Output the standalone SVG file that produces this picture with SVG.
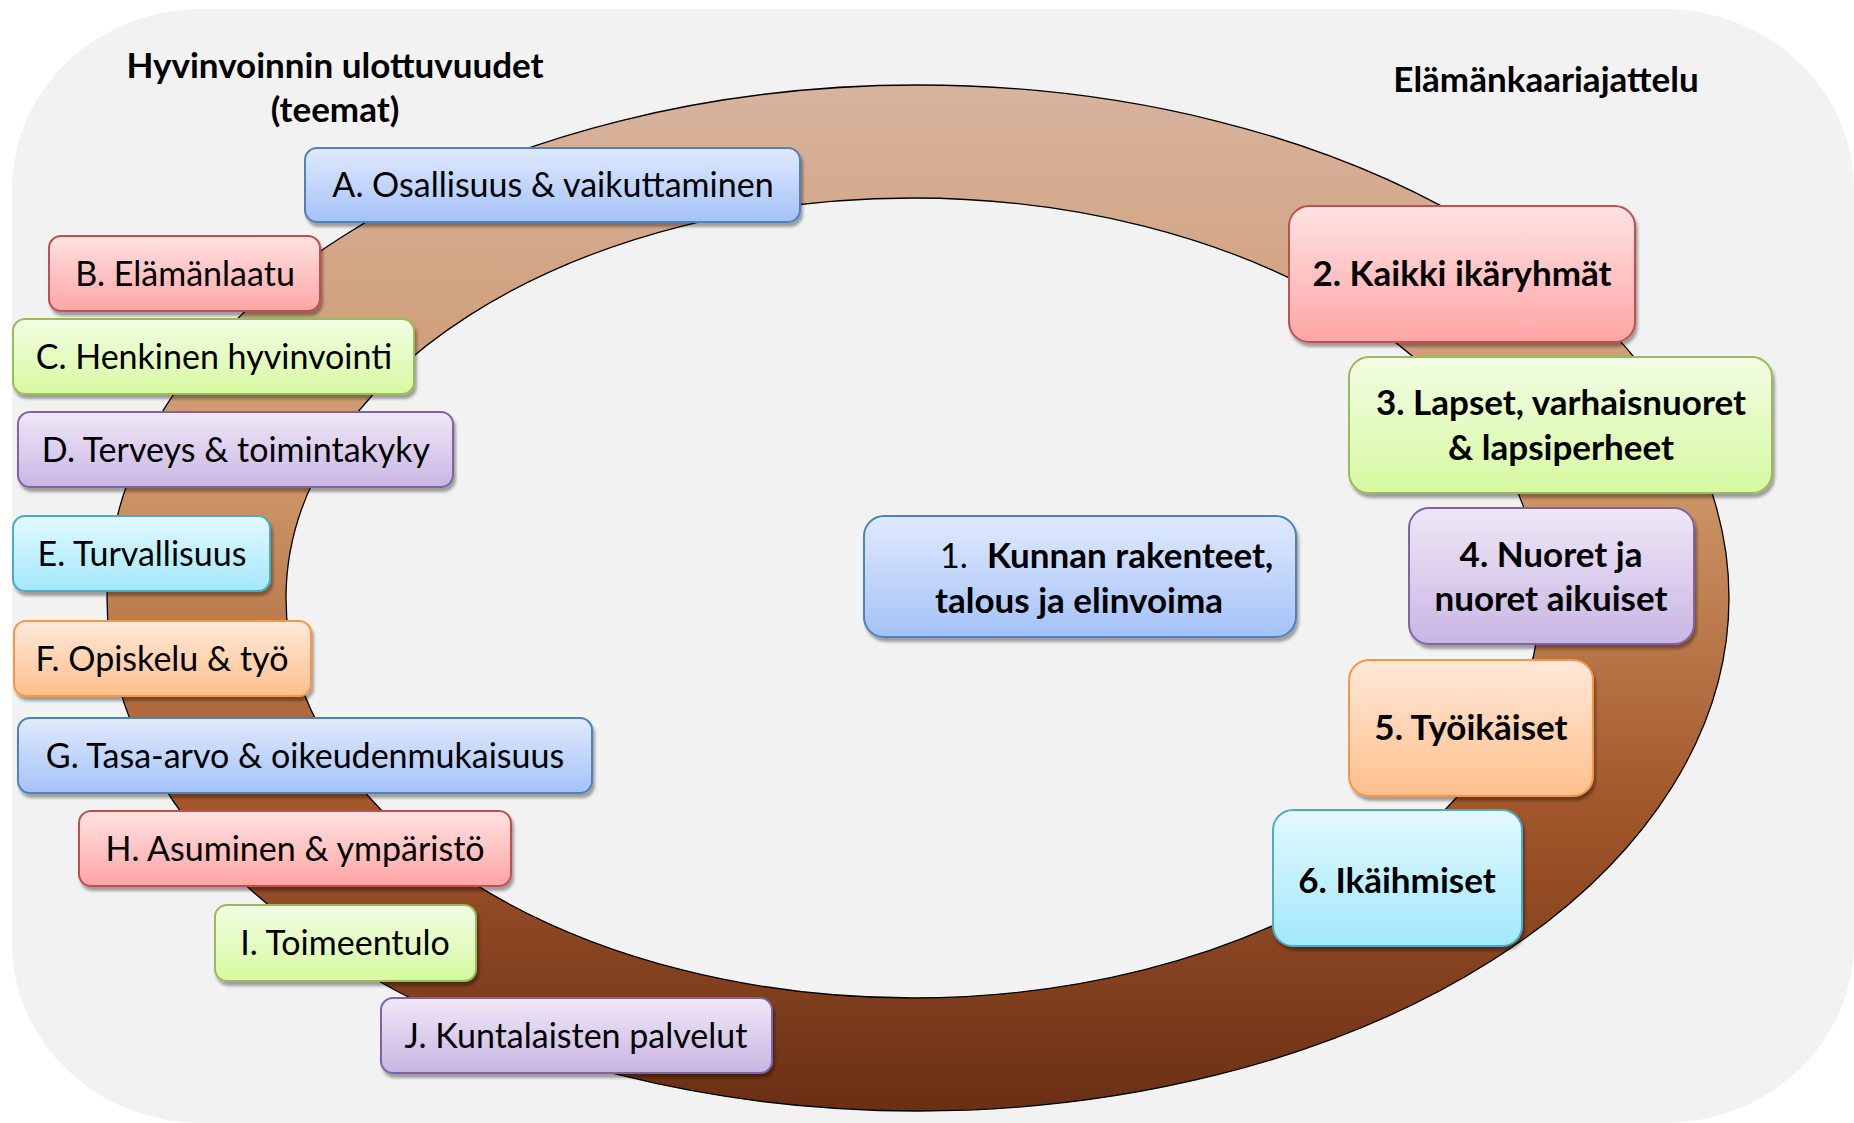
<svg xmlns="http://www.w3.org/2000/svg" width="1854" height="1123" viewBox="0 0 1854 1123">
<defs>
<linearGradient id="ringG" x1="0" y1="0" x2="0" y2="1">
<stop offset="0" stop-color="#d8b39f"/>
<stop offset="0.4" stop-color="#cc9465"/>
<stop offset="0.7" stop-color="#a3572b"/>
<stop offset="1" stop-color="#6a2f14"/>
</linearGradient>
<linearGradient id="gBlue" x1="0" y1="0" x2="0" y2="1"><stop offset="0" stop-color="#e0eafd"/><stop offset="1" stop-color="#a4c2f8"/></linearGradient>
<linearGradient id="gRed" x1="0" y1="0" x2="0" y2="1"><stop offset="0" stop-color="#ffe2e2"/><stop offset="1" stop-color="#ffa5a5"/></linearGradient>
<linearGradient id="gGreen" x1="0" y1="0" x2="0" y2="1"><stop offset="0" stop-color="#f2fde4"/><stop offset="1" stop-color="#d6f9a0"/></linearGradient>
<linearGradient id="gPurple" x1="0" y1="0" x2="0" y2="1"><stop offset="0" stop-color="#efe8f7"/><stop offset="1" stop-color="#c9b5e3"/></linearGradient>
<linearGradient id="gCyan" x1="0" y1="0" x2="0" y2="1"><stop offset="0" stop-color="#e3f9fe"/><stop offset="1" stop-color="#a2e8fc"/></linearGradient>
<linearGradient id="gOrange" x1="0" y1="0" x2="0" y2="1"><stop offset="0" stop-color="#ffe9da"/><stop offset="1" stop-color="#ffbf8c"/></linearGradient>
<filter id="sh" x="-10%" y="-20%" width="120%" height="150%">
<feDropShadow dx="2" dy="4" stdDeviation="1.5" flood-color="#000" flood-opacity="0.35"/>
</filter>
</defs>
<style>
.box{stroke-width:2;filter:url(#sh)}
.blue{fill:url(#gBlue);stroke:#4f81bd}
.red{fill:url(#gRed);stroke:#c0504d}
.green{fill:url(#gGreen);stroke:#9bbb59}
.purple{fill:url(#gPurple);stroke:#8064a2}
.cyan{fill:url(#gCyan);stroke:#4bacc6}
.orange{fill:url(#gOrange);stroke:#f79646}
.t{font-family:Lato,"Liberation Sans",sans-serif;font-size:34px;fill:#000;text-anchor:middle}
.b{font-weight:bold;font-size:35px}
</style>
<rect x="12" y="9" width="1842" height="1114" rx="190" ry="180" fill="#f2f2f2"/>
<g id="ring">
<path d="M107 598 A811 513 0 1 0 1729 598 A811 513 0 1 0 107 598 Z M286 598 A627 400 0 1 1 1540 598 A627 400 0 1 1 286 598 Z" fill="url(#ringG)" fill-rule="evenodd" stroke="#000" stroke-width="1.3"/>
</g>
<g id="titles">
<text class="t b" x="335" y="78">Hyvinvoinnin ulottuvuudet</text>
<text class="t b" x="335" y="122">(teemat)</text>
<text class="t b" x="1546" y="92">Elämänkaariajattelu</text>
</g>
<g id="connectors"></g>
<g id="nodeA"><rect class="box blue" x="305" y="148" width="495" height="74" rx="12"/><text class="t" x="553" y="197">A. Osallisuus &amp; vaikuttaminen</text></g>
<g id="nodeB"><rect class="box red" x="49" y="236" width="271" height="75" rx="12"/><text class="t" x="185" y="286">B. Elämänlaatu</text></g>
<g id="nodeC"><rect class="box green" x="13" y="319" width="401" height="75" rx="12"/><text class="t" x="214" y="369">C. Henkinen hyvinvointi</text></g>
<g id="nodeD"><rect class="box purple" x="18" y="412" width="435" height="75" rx="12"/><text class="t" x="236" y="462">D. Terveys &amp; toimintakyky</text></g>
<g id="nodeE"><rect class="box cyan" x="13" y="516" width="257" height="75" rx="12"/><text class="t" x="142" y="566">E. Turvallisuus</text></g>
<g id="nodeF"><rect class="box orange" x="14" y="621" width="297" height="75" rx="12"/><text class="t" x="162" y="671">F. Opiskelu &amp; työ</text></g>
<g id="nodeG"><rect class="box blue" x="18" y="718" width="574" height="75" rx="12"/><text class="t" x="305" y="768">G. Tasa-arvo &amp; oikeudenmukaisuus</text></g>
<g id="nodeH"><rect class="box red" x="79" y="811" width="432" height="75" rx="12"/><text class="t" x="295" y="861">H. Asuminen &amp; ympäristö</text></g>
<g id="nodeI"><rect class="box green" x="215" y="905" width="261" height="76" rx="12"/><text class="t" x="345" y="955">I. Toimeentulo</text></g>
<g id="nodeJ"><rect class="box purple" x="381" y="998" width="391" height="75" rx="12"/><text class="t" x="576" y="1048">J. Kuntalaisten palvelut</text></g>
<g id="node1"><rect class="box blue" x="864" y="516" width="432" height="121" rx="20"/><text class="t" x="940" y="568" style="text-anchor:start">1.<tspan class="b" x="987">Kunnan rakenteet,</tspan></text><text class="t b" x="935" y="613" style="text-anchor:start">talous ja elinvoima</text></g>
<g id="node2"><rect class="box red" x="1289" y="206" width="346" height="136" rx="20"/><text class="t b" x="1462" y="286">2. Kaikki ikäryhmät</text></g>
<g id="node3"><rect class="box green" x="1349" y="357" width="423" height="136" rx="20"/><text class="t b" x="1561" y="415">3. Lapset, varhaisnuoret</text><text class="t b" x="1561" y="460">&amp; lapsiperheet</text></g>
<g id="node4"><rect class="box purple" x="1409" y="508" width="285" height="136" rx="20"/><text class="t b" x="1551" y="567">4. Nuoret ja</text><text class="t b" x="1551" y="611">nuoret aikuiset</text></g>
<g id="node5"><rect class="box orange" x="1349" y="660" width="244" height="136" rx="20"/><text class="t b" x="1471" y="740">5. Työikäiset</text></g>
<g id="node6"><rect class="box cyan" x="1273" y="810" width="249" height="136" rx="20"/><text class="t b" x="1397" y="893">6. Ikäihmiset</text></g>
</svg>
